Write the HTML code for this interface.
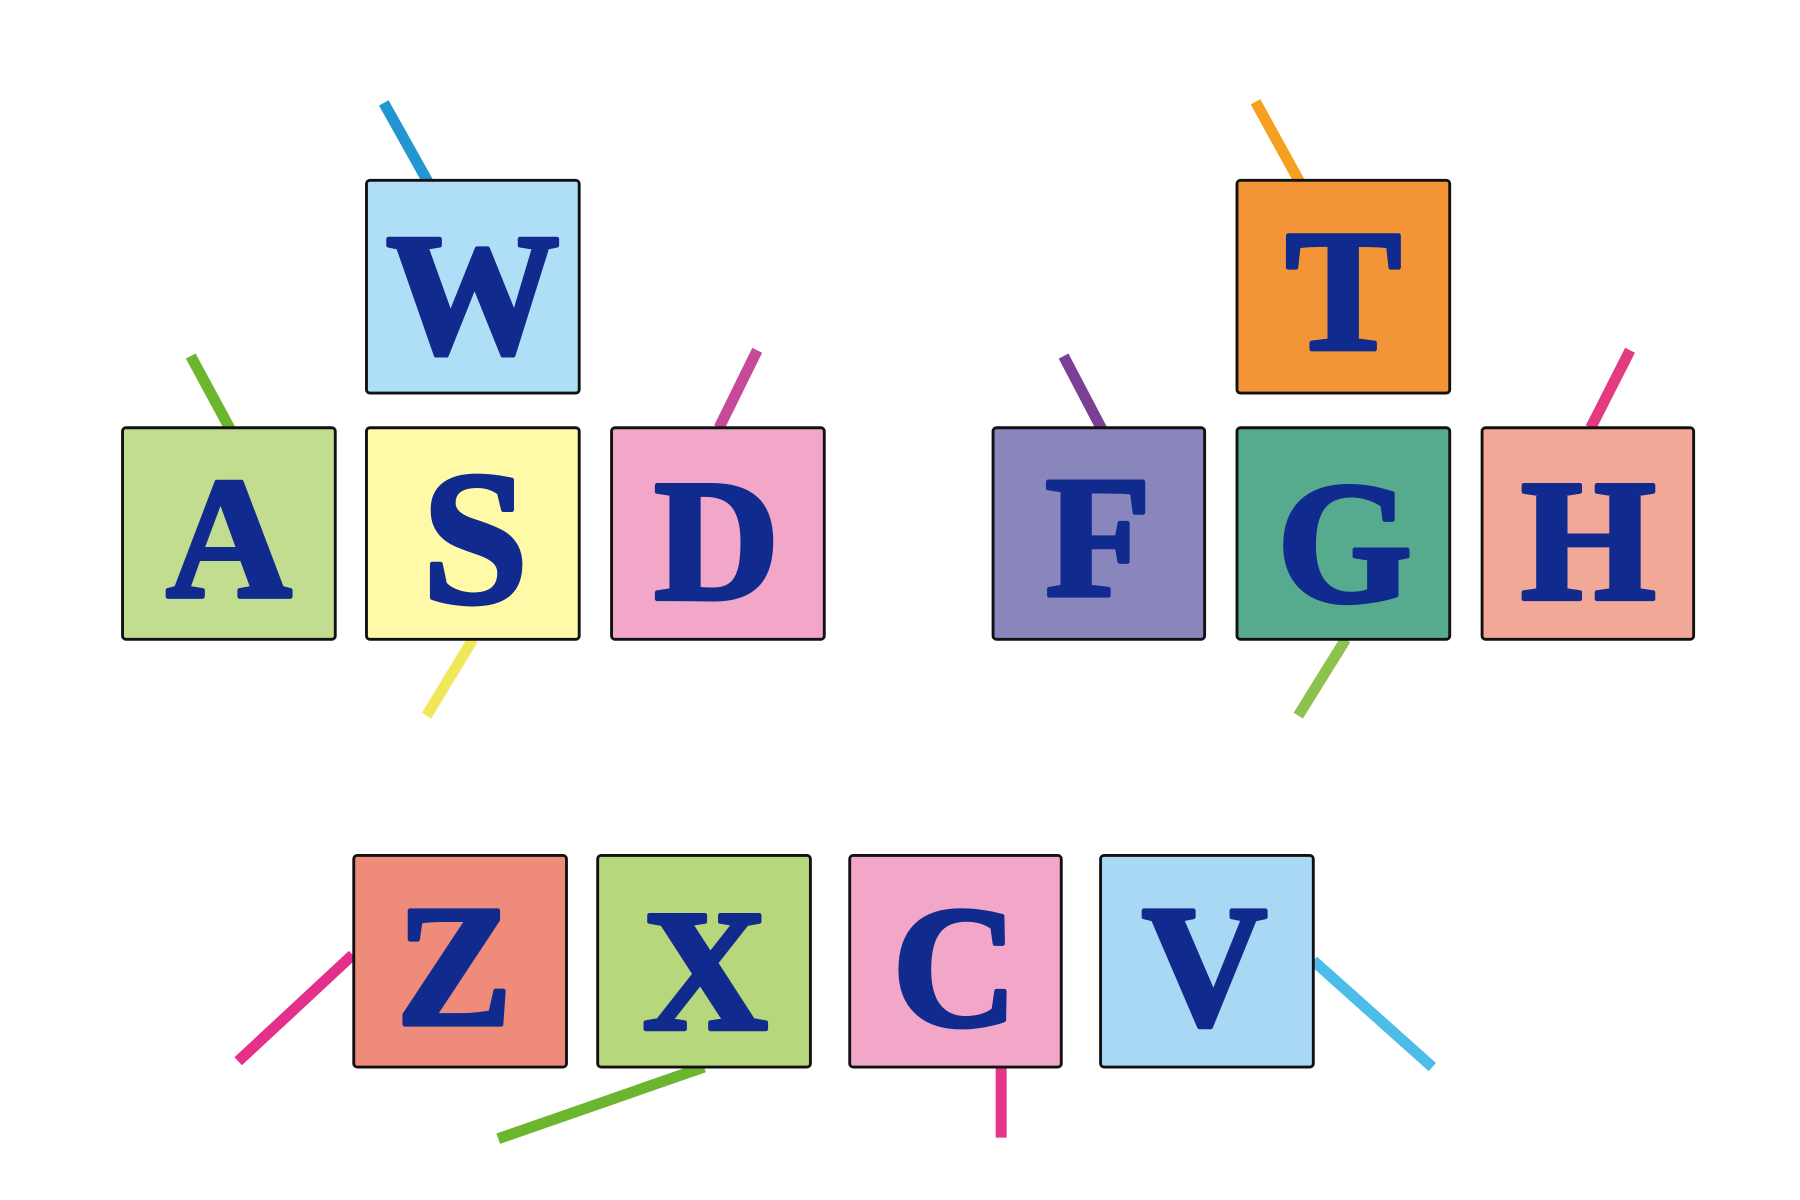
<!DOCTYPE html>
<html><head><meta charset="utf-8"><style>
html,body{margin:0;padding:0;background:#fff;}
svg{display:block;}
text{font-family:"Liberation Serif",serif;font-weight:bold;fill:#112a8e;stroke:#112a8e;stroke-width:4;stroke-linejoin:round;}
</style></head><body>
<svg width="1800" height="1200" viewBox="0 0 1557 1038" preserveAspectRatio="none">
<g stroke-width="9.5" stroke-linecap="butt">
<line x1="332" y1="89" x2="370" y2="157" stroke="#2296d0"/>
<line x1="165" y1="308" x2="199" y2="371" stroke="#6cb52e"/>
<line x1="655" y1="303" x2="622" y2="370" stroke="#c8489a"/>
<line x1="409" y1="553" x2="369" y2="619" stroke="#f0e85a"/>
<line x1="920" y1="308" x2="953" y2="371" stroke="#7b3f96"/>
<line x1="1086" y1="88" x2="1124" y2="157" stroke="#f5a01e"/>
<line x1="1410" y1="303" x2="1376" y2="370" stroke="#e33a80"/>
<line x1="1164" y1="553" x2="1123" y2="619" stroke="#8dc150"/>
<line x1="305" y1="826" x2="206" y2="918" stroke="#e5308a"/>
<line x1="609" y1="923" x2="431" y2="985" stroke="#6cb52e"/>
<line x1="866" y1="923" x2="866" y2="984" stroke="#e5348a"/>
<line x1="1136" y1="831" x2="1239" y2="923" stroke="#4bbde8"/>
</g>
<g stroke="#111" stroke-width="2.5">
<rect x="317" y="156" width="184" height="184" rx="3" fill="#aedff7"/>
<rect x="1070" y="156" width="184" height="184" rx="3" fill="#f39536"/>
<rect x="106" y="370" width="184" height="183" rx="3" fill="#c2dd90"/>
<rect x="317" y="370" width="184" height="183" rx="3" fill="#fff9a8"/>
<rect x="529" y="370" width="184" height="183" rx="3" fill="#f2a6c8"/>
<rect x="859" y="370" width="183" height="183" rx="3" fill="#8986be"/>
<rect x="1070" y="370" width="184" height="183" rx="3" fill="#56ab8f"/>
<rect x="1282" y="370" width="183" height="183" rx="3" fill="#f2a896"/>
<rect x="306" y="740" width="184" height="183" rx="3" fill="#ef8b7a"/>
<rect x="517" y="740" width="184" height="183" rx="3" fill="#b7d77c"/>
<rect x="735" y="740" width="183" height="183" rx="3" fill="#f2a6c8"/>
<rect x="952" y="740" width="184" height="183" rx="3" fill="#a9d8f5"/>
</g>
<g font-size="150" text-anchor="middle">
<text x="409" y="305">W</text>
<text x="1162" y="302">T</text>
<text x="198" y="516">A</text>
<text x="411" y="521" font-size="165">S</text>
<text x="620" y="518">D</text>
<text x="950" y="515">F</text>
<text x="1163" y="520">G</text>
<text x="1374" y="518">H</text>
<text x="393" y="886">Z</text>
<text x="610" y="890">X</text>
<text x="826" y="887">C</text>
<text x="1042" y="886">V</text>
</g>
</svg>
</body></html>
